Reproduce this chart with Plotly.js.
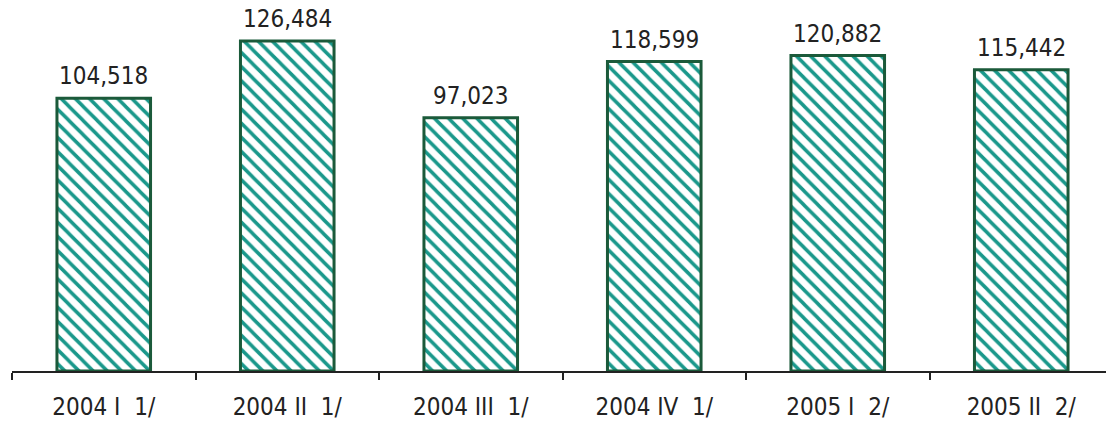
<!DOCTYPE html>
<html><head><meta charset="utf-8">
<script src="https://cdn.plot.ly/plotly-3.0.1.min.js"></script>
<style>html,body{margin:0;padding:0;overflow:hidden;background:#fff}</style>
</head><body>
<div id="chart"></div>
<script>
const categories = ["2004 I\u00a0\u00a01/", "2004 II\u00a0\u00a01/", "2004 III\u00a0\u00a01/", "2004 IV\u00a0\u00a01/", "2005 I\u00a0\u00a02/", "2005 II\u00a0\u00a02/"];
const values = [104518, 126484, 97023, 118599, 120882, 115442];

const FONT = "'DejaVu Sans Condensed', 'Liberation Sans Narrow', sans-serif";

const trace = {
  type: "bar",
  x: categories,
  y: values,
  marker: {
    color: "#ffffff",
    line: {color: "#1b5a3a", width: 3},
    pattern: {shape: "\\", fgcolor: "#1a988b", bgcolor: "#ffffff", size: 10, solidity: 0.35}
  },
  hoverinfo: "none"
};

const annotations = categories.map((c, i) => ({
  x: c, y: values[i], xref: "x", yref: "y",
  text: values[i].toLocaleString("en-US"),
  showarrow: false, yanchor: "bottom", yshift: 6,
  font: {family: FONT, size: 24, color: "#222222"}
}));

const layout = {
  width: 1113, height: 422,
  margin: {l: 12, r: 0, t: 7, b: 51},
  paper_bgcolor: "#ffffff", plot_bgcolor: "#ffffff",
  showlegend: false,
  bargap: 0.49,
  font: {family: FONT, size: 24, color: "#222222"},
  annotations: annotations,
  xaxis: {
    type: "category",
    showline: true, linecolor: "#222222", linewidth: 2,
    ticks: "outside", tickson: "boundaries", ticklen: 7, tickwidth: 2, tickcolor: "#222222",
    ticklabelstandoff: 13,
    tickfont: {family: FONT, size: 24, color: "#222222"},
    showgrid: false, zeroline: false
  },
  yaxis: {
    range: [0, 139500],
    visible: false, showgrid: false, zeroline: false
  }
};

Plotly.newPlot("chart", [trace], layout, {staticPlot: true, displayModeBar: false});
</script>
</body></html>
